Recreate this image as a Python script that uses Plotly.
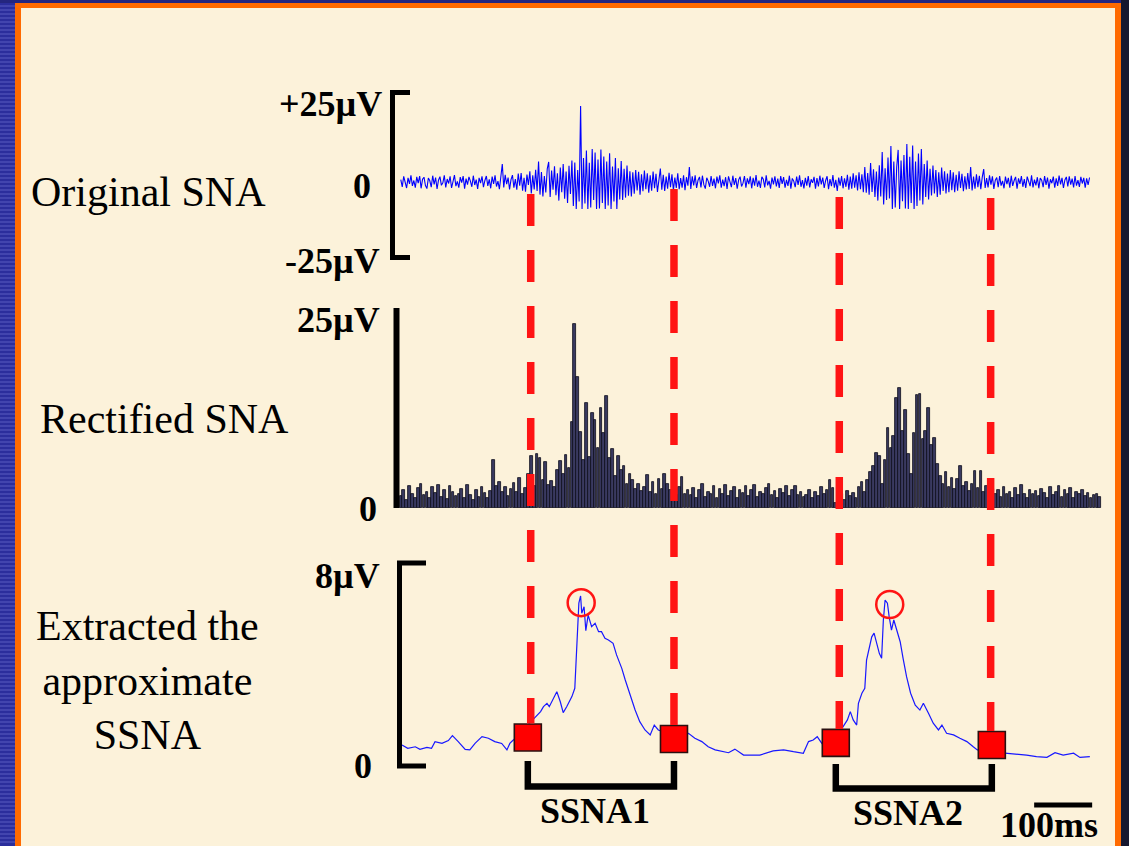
import plotly.graph_objects as go

W, H = 1129, 846

# ------------------------------------------------------------------ data
# Original SNA (µV), sampled every 2.5 ms starting at 10 ms
SNA_T0_MS = 10
SNA_DT_MS = 2.5
original_sna_uV = [
    0.8, -1.6, 1.9, 0.2, -2.0, 1.4, -0.6, 2.2, -1.3, 0.5, -1.9, 1.7, -0.4, 2.0, -2.1, 0.9, 1.6, -1.2, -2.2, 1.3,
    0.4, -1.7, 2.1, -0.8, 1.5, -2.3, 0.6, 1.8, -1.1, -0.3, 2.2, -1.8, 1.0, -0.5, 1.9, -2.0, 0.7, 2.3, -1.4, 0.2,
    -1.9, 1.6, -0.2, 2.0, -2.2, 1.1, -0.9, 1.7, 0.3, -1.6, 2.1, -1.0, 0.8, -2.3, 1.4, -0.4, 1.9, -1.7, 0.5, 2.0,
    -1.3, 0.9, -2.1, 1.8, -0.6, 2.2, -1.5, 0.3, -2.4, 1.2, 6.0, -1.8, 2.4, -0.7, 1.5, -2.5, 0.8, 2.3, -1.9, 1.0,
    -2.6, 2.8, -1.2, 3.0, -2.9, 1.4, -3.2, 2.5, -1.0, 3.6, -3.8, 2.2, -2.5, 4.1, -3.0, 6.8, -4.2, 3.3, -4.8, 2.0,
    -3.5, 4.4, 6.7, -5.0, 3.8, -2.6, 5.2, -4.4, 2.9, -6.2, 4.8, -3.4, 6.0, -5.6, 3.5, -7.0, 5.4, -4.0, 7.2, -8.0,
    6.5, -9.0, 4.0, -6.5, 25.3, -9.0, 8.0, -7.2, 10.5, -9.0, 6.4, -8.5, 11.0, -6.0, 9.8, -9.0, 7.5, -8.8, 10.8, -7.0,
    8.5, -9.0, 6.8, -7.8, 9.6, -9.0, 5.2, -6.5, 8.0, -9.0, 4.6, -5.8, 7.0, -6.0, 4.4, -5.2, 5.5, -4.6, 3.6, -4.8,
    3.2, -3.9, 4.0, -2.8, 3.4, -4.2, 2.6, -3.1, 3.8, -2.4, 2.9, -3.6, 2.2, -2.9, 3.5, -2.1, 2.7, -3.3, 1.9, 4.5,
    -2.6, 2.4, -3.0, 1.8, -2.2, 3.1, -1.7, 2.6, -2.8, 1.5, -2.0, 2.9, -2.4, 1.3, -1.9, 2.2, -2.7, 1.6, -1.2, 5.0,
    -2.3, 1.9, -1.1, 2.2, -2.0, 0.6, 1.7, -1.8, 2.1, -0.9, -2.2, 1.4, 0.3, -1.6, 2.0, -1.3, 1.1, -2.1, 1.8, -0.5,
    2.2, -1.9, 0.8, -1.4, 1.6, -2.3, 1.9, 0.2, -1.7, 2.1, -1.0, 1.3, -2.2, 0.7, 1.8, -1.5, -0.4, 2.0, -1.9, 1.2,
    -0.7, 1.9, -2.1, 1.4, -1.2, 2.3, -1.6, 0.5, -2.0, 1.7, 0.9, -1.8, 2.2, -1.1, 0.4, -2.2, 1.5, -0.8, 1.9, -1.5,
    1.1, -2.0, 2.0, -0.6, 1.6, -1.9, 0.7, -1.3, 2.1, -2.2, 1.2, 0.3, -1.7, 1.8, -1.0, 2.2, -1.6, 0.6, -2.1, 1.4,
    -1.2, 2.0, -1.8, 0.9, -0.3, 1.7, -2.2, 1.3, -1.5, 2.1, -0.8, 1.5, -2.0, 0.5, 1.9, -2.4, 1.0, -1.4, 2.3, -1.9,
    0.7, -3.0, 1.5, -1.2, 2.0, -2.1, 1.2, -1.6, 2.4, -2.6, 1.8, -2.2, 2.9, -1.9, 2.2, -2.8, 3.2, -2.4, 2.6, -3.4,
    5.0, -3.6, 3.0, -4.2, 6.3, -3.3, 4.2, -5.0, 3.5, -6.2, 5.6, -4.8, 10.0, -7.5, 4.6, -6.0, 8.2, -5.5, 12.0, -9.0,
    6.8, -8.5, 5.0, 10.7, -9.0, 7.2, -6.4, 9.0, -8.8, 12.7, -9.0, 8.4, -7.0, 12.2, -9.0, 6.8, -8.0, 9.5, -6.2, 11.0,
    -7.5, 6.0, -5.0, 7.2, -5.8, 4.4, -4.5, 5.5, -3.8, 4.0, -5.0, 3.2, -4.2, 4.8, -3.0, 3.6, -3.8, 2.8, -3.4, 4.0,
    -2.7, 3.2, -3.4, 2.4, -2.9, 3.6, -2.0, 2.7, -3.1, 1.9, -2.5, 3.0, -2.3, 5.0, -2.8, 1.8, -2.2, 2.6, -1.7, 2.1,
    -2.4, 1.6, 4.3, -2.0, 1.3, -1.8, 2.2, -0.9, 1.9, -2.3, 0.6, 1.5, -1.7, 2.0, -1.2, 0.4, -2.1, 1.8, -0.7, 1.4,
    -1.9, 2.1, -1.3, 0.5, 1.7, -2.2, 1.2, -0.6, 2.0, -1.6, 1.0, -2.0, 1.8, 0.2, -1.4, 2.2, -1.8, 0.8, -1.1, 1.6,
    -2.1, 1.3, 0.6, -1.7, 2.0, -1.0, 1.5, -2.2, 0.9, -0.4, 1.8, -1.9, 1.2, -1.3, 2.1, -0.8, 1.4, -2.0, 0.7, 1.7,
    -1.5, 1.9, -0.9, 1.1, -1.8, 2.0, -1.2, 0.6, -1.6, 1.7, -0.5, 1.4, -1.9, 1.2, -1.0, 1.5,
]

# Rectified SNA (µV), 5 ms bins starting at 10 ms
RECT_T0_MS = 10
RECT_DT_MS = 5
rectified_sna_uV = [
    1.5, 2.2, 1.0, 2.8, 1.8, 1.2, 2.5, 3.0, 1.6, 2.0, 1.3, 2.6, 1.9, 2.9, 1.4, 2.3, 1.1, 2.7, 2.0, 1.5,
    1.8, 2.4, 1.2, 2.9, 1.6, 1.0, 2.2, 1.4, 2.6, 1.9, 1.3, 2.1, 6.0, 2.8, 3.3, 2.0, 2.6, 1.5, 2.4, 3.1,
    2.0, 3.8, 1.8, 2.5, 4.2, 6.5, 2.8, 6.8, 6.2, 3.5, 5.8, 2.9, 3.4, 2.6, 4.8, 5.9, 4.2, 6.6, 5.0, 10.7,
    23.0, 16.4, 9.5, 6.0, 13.1, 6.4, 11.9, 11.0, 7.5, 12.5, 9.4, 14.0, 6.2, 7.4, 4.0, 6.5, 4.8, 5.2, 3.0, 4.3,
    3.5, 2.4, 3.0, 2.1, 2.6, 4.1, 2.0, 3.2, 1.8, 3.6, 2.4, 4.3, 3.0, 2.2, 3.4, 1.6, 2.6, 3.9, 1.8, 2.3,
    1.6, 2.5, 1.2, 2.2, 3.0, 1.4, 2.0, 1.7, 2.8, 1.3, 2.4, 1.8, 2.9, 1.5, 2.1, 2.6, 1.3, 2.3, 1.9, 2.7,
    1.5, 2.2, 2.9, 1.4, 2.0, 1.7, 2.5, 3.0, 1.6, 2.1, 1.3, 2.4, 1.9, 2.7, 1.5, 2.2, 2.8, 1.6, 2.0, 1.4,
    1.6, 2.3, 1.2, 2.0, 1.5, 2.6, 1.8, 2.2, 3.5, 2.5, 0.6, 1.2, 1.8, 1.0, 2.1, 1.5, 1.9, 1.3, 2.6, 3.3,
    2.0, 3.5, 4.5, 5.2, 6.9, 6.5, 3.0, 6.0, 10.0, 7.5, 9.0, 13.7, 15.0, 9.6, 12.2, 6.8, 4.2, 9.4, 14.1, 14.2,
    8.6, 9.6, 12.5, 7.9, 8.8, 5.5, 4.0, 3.0, 4.5, 2.6, 3.8, 2.4, 3.6, 5.3, 2.8, 3.3, 2.1, 3.0, 4.6, 2.5,
    4.6, 2.0, 2.8, 1.5, 2.4, 1.8, 2.2, 1.4, 2.6, 1.7, 2.0, 1.3, 2.5, 1.6, 2.9, 1.8, 1.2, 2.3, 1.7, 2.1,
    1.5, 2.4, 1.9, 1.3, 2.6, 1.6, 2.0, 2.8, 1.4, 2.2, 1.7, 2.5, 1.2, 2.0, 1.8, 2.3, 1.5, 1.9, 1.3, 1.6,
    1.8, 1.4,
]

# Extracted approximate SSNA trace
ssna_t_ms = [12, 22, 35, 43, 55, 63, 69, 81, 92, 99, 109, 121, 129, 138, 150, 161, 172, 184, 193, 198,
             204, 229, 251, 256, 262, 266, 270, 279, 285, 290, 296, 305, 310, 313, 315, 317, 320, 322, 326, 329,
             333, 339, 345, 351, 356, 362, 368, 376, 382, 391, 397, 405, 414, 422, 431, 440, 447, 454, 481, 506,
             517, 529, 540, 552, 566, 575, 586, 601, 612, 629, 652, 670, 687, 704, 713, 721, 728, 736, 760, 780,
             785, 790, 796, 799, 805, 810, 813, 818, 822, 826, 831, 835, 839, 842, 845, 849, 852, 856, 860, 865,
             871, 876, 882, 889, 897, 905, 911, 920, 928, 937, 943, 951, 963, 974, 986, 997, 1004, 1029, 1055, 1072,
             1089, 1106, 1124, 1138, 1152, 1170, 1181, 1198]
ssna_uV = [0.89, 0.76, 0.82, 0.72, 0.80, 0.76, 1.02, 0.95, 1.06, 1.25, 1.02, 0.72, 0.70, 0.95, 1.21, 1.15, 1.02, 0.95, 0.70, 0.95,
           1.08, 1.66, 2.18, 2.37, 2.50, 2.37, 2.56, 2.95, 2.56, 2.14, 2.37, 2.76, 3.08, 4.43, 5.85, 6.37, 6.65, 5.98, 6.23, 5.31,
           5.91, 5.46, 5.59, 5.27, 5.27, 5.01, 4.95, 4.82, 4.37, 3.85, 3.40, 2.82, 2.24, 1.79, 1.47, 1.28, 1.66, 1.47, 1.24, 1.34,
           1.15, 1.02, 0.82, 0.70, 0.63, 0.59, 0.73, 0.50, 0.50, 0.50, 0.66, 0.70, 0.63, 0.57, 1.02, 1.08, 1.21, 0.95, 1.16, 1.86,
           2.18, 1.86, 1.66, 2.50, 2.89, 3.08, 4.17, 4.63, 5.07, 5.21, 4.75, 4.43, 4.24, 5.72, 6.49, 6.37, 5.85, 5.33, 5.72, 5.33,
           4.88, 4.24, 3.53, 2.89, 2.43, 2.24, 2.50, 2.11, 1.73, 1.47, 1.66, 1.34, 1.28, 1.15, 1.02, 0.82, 0.70, 0.62, 0.57, 0.54,
           0.50, 0.44, 0.41, 0.59, 0.50, 0.57, 0.41, 0.44]

# Burst onset / offset (dashed red lines and red squares)
event_line_t_ms = [234, 481, 766, 1027]
event_square_t_ms = [229, 481, 760, 1029]
event_square_uV = [1.18, 1.12, 0.97, 0.89]

# Burst peaks (red circles)
peak_t_ms = [321, 853]
peak_uV = [6.39, 6.32]

burst_names = ["SSNA1", "SSNA2"]
SCALE_BAR_MS = 100
SCALE_BAR_START_MS = 1102

# ------------------------------------------------------------------ layout helpers
def px(xp):
    return xp / W


def py(yp):
    return 1 - yp / H


X_PX = (395, 1105)
X_RANGE = [0, (X_PX[1] - X_PX[0]) / 0.58]
Y3_PX = (561, 768)
Y3_RANGE = [0, 8]

sna_t = [SNA_T0_MS + SNA_DT_MS * i for i in range(len(original_sna_uV))]
rect_t = [RECT_T0_MS + RECT_DT_MS * i for i in range(len(rectified_sna_uV))]

BLUE = "#0000FF"
RED = "#FF1414"
SERIF = "Liberation Serif, Times New Roman, serif"

fig = go.Figure()

fig.add_trace(go.Scatter(x=sna_t, y=original_sna_uV, mode="lines",
                         line=dict(color=BLUE, width=1.1), xaxis="x", yaxis="y",
                         hoverinfo="skip"))
fig.add_trace(go.Bar(x=rect_t, y=rectified_sna_uV, width=RECT_DT_MS * 0.9,
                     marker=dict(color="#3a3a60", line=dict(color="#0d0d1c", width=0.8)),
                     xaxis="x", yaxis="y2", hoverinfo="skip"))
fig.add_trace(go.Scatter(x=ssna_t_ms, y=ssna_uV, mode="lines",
                         line=dict(color="#1818FF", width=1.2), xaxis="x", yaxis="y3",
                         hoverinfo="skip"))
fig.add_trace(go.Scatter(x=peak_t_ms, y=peak_uV, mode="markers",
                         marker=dict(symbol="circle-open", size=27, color=RED,
                                     line=dict(color=RED, width=2.5)),
                         xaxis="x", yaxis="y3", cliponaxis=False, hoverinfo="skip"))
fig.add_trace(go.Scatter(x=event_square_t_ms, y=event_square_uV, mode="markers",
                         marker=dict(symbol="square", size=27, color="#FF0000",
                                     line=dict(color="#2a1010", width=1.6)),
                         xaxis="x", yaxis="y3", cliponaxis=False, hoverinfo="skip"))

shapes = []
# slide decoration
shapes.append(dict(type="rect", xref="paper", yref="paper", x0=0, x1=px(15), y0=0, y1=1,
                   fillcolor="#2B2E9C", line=dict(width=0), layer="below"))
for yy in range(2, H, 4):
    shapes.append(dict(type="line", xref="paper", yref="paper", x0=0, x1=px(15), y0=py(yy), y1=py(yy),
                       line=dict(color="#5a5cc0", width=1), layer="below"))
shapes.append(dict(type="rect", xref="paper", yref="paper", x0=0, x1=1, y0=py(3), y1=1,
                   fillcolor="#24267f", line=dict(width=0), layer="below"))
shapes.append(dict(type="rect", xref="paper", yref="paper", x0=px(15), x1=px(1121), y0=py(8), y1=py(3),
                   fillcolor="#FF6A00", line=dict(width=0), layer="below"))
shapes.append(dict(type="rect", xref="paper", yref="paper", x0=px(15), x1=px(21), y0=0, y1=py(3),
                   fillcolor="#FF6A00", line=dict(width=0), layer="below"))
shapes.append(dict(type="rect", xref="paper", yref="paper", x0=px(1115), x1=px(1121), y0=0, y1=py(3),
                   fillcolor="#FF6A00", line=dict(width=0), layer="below"))
shapes.append(dict(type="rect", xref="paper", yref="paper", x0=px(1121), x1=1, y0=0, y1=1,
                   fillcolor="#16172f", line=dict(width=0), layer="below"))


def ppath(points):
    return "M " + " L ".join(f"{px(a):.5f},{py(b):.5f}" for a, b in points)


# brackets / axis bars
shapes.append(dict(type="path", xref="paper", yref="paper",
                   path=ppath([(410, 92.5), (392.5, 92.5), (392.5, 257.5), (410, 257.5)]),
                   line=dict(color="black", width=5)))
shapes.append(dict(type="line", xref="paper", yref="paper", x0=px(396.5), x1=px(396.5),
                   y0=py(308), y1=py(508), line=dict(color="black", width=6)))
shapes.append(dict(type="path", xref="paper", yref="paper",
                   path=ppath([(426, 563), (399.5, 563), (399.5, 766), (426, 766)]),
                   line=dict(color="black", width=5)))

# dashed event lines (end at the top of each square)
dash_tops = [194, 189, 197, 198]
sq_half = 14
px_per_uV = (Y3_PX[1] - Y3_PX[0]) / (Y3_RANGE[1] - Y3_RANGE[0])
for t, v, top in zip(event_line_t_ms, event_square_uV, dash_tops):
    bottom_px = Y3_PX[1] - v * px_per_uV - sq_half
    shapes.append(dict(type="line", xref="x", yref="paper", x0=t, x1=t, y0=py(top), y1=py(bottom_px),
                       line=dict(color=RED, width=7.5, dash="32px,24px")))

# burst brackets
br_tops = [761, 764]
br_bots = [786.5, 788.5]
for k in range(2):
    t1, t2 = event_square_t_ms[2 * k], event_square_t_ms[2 * k + 1]
    path = (f"M {t1},{py(br_tops[k]):.5f} L {t1},{py(br_bots[k]):.5f} "
            f"L {t2},{py(br_bots[k]):.5f} L {t2},{py(br_tops[k]):.5f}")
    shapes.append(dict(type="path", xref="x", yref="paper", path=path,
                       line=dict(color="black", width=6.5)))

# scale bar
shapes.append(dict(type="line", xref="x", yref="paper", x0=SCALE_BAR_START_MS,
                   x1=SCALE_BAR_START_MS + SCALE_BAR_MS, y0=py(805), y1=py(805),
                   line=dict(color="black", width=5)))

annotations = []


def label(text, xp, yp, size, bold=False, xanchor="center", xref="paper", xval=None):
    annotations.append(dict(
        text=f"<b>{text}</b>" if bold else text,
        x=xval if xval is not None else px(xp), y=py(yp), xref=xref, yref="paper",
        xanchor=xanchor, yanchor="middle", showarrow=False, align="center", borderpad=0,
        font=dict(family=SERIF, size=size, color="black")))


label("Original SNA", 148, 192, 42)
label("Rectified SNA", 164, 419, 42)
label("Extracted the<br>approximate<br>SSNA", 147, 680, 42)

label("+25µV", 383, 104, 36, bold=True, xanchor="right")
label("0", 372, 186, 36, bold=True, xanchor="right")
label("-25µV", 381, 261, 36, bold=True, xanchor="right")
label("25µV", 381, 320, 36, bold=True, xanchor="right")
label("0", 378, 509, 36, bold=True, xanchor="right")
label("8µV", 381, 576, 36, bold=True, xanchor="right")
label("0", 373, 766, 36, bold=True, xanchor="right")

for k, name in enumerate(burst_names):
    mid = (event_square_t_ms[2 * k] + event_square_t_ms[2 * k + 1]) / 2
    label(name, 0, 811 + 2 * k, 36, bold=True, xref="x", xval=mid - 10)
label(f"{SCALE_BAR_MS}ms", 0, 825, 36, bold=True, xref="x", xval=SCALE_BAR_START_MS + 26)

fig.update_layout(
    width=W, height=H, autosize=False,
    margin=dict(l=0, r=0, t=0, b=0),
    paper_bgcolor="#FCF2DA", plot_bgcolor="rgba(0,0,0,0)",
    showlegend=False, bargap=0,
    xaxis=dict(domain=[px(X_PX[0]), px(X_PX[1])], range=X_RANGE, visible=False, fixedrange=True),
    yaxis=dict(domain=[py(272), py(92)], range=[-30, 30], visible=False, fixedrange=True, anchor="x"),
    yaxis2=dict(domain=[py(508), py(308)], range=[0, 25], visible=False, fixedrange=True, anchor="x"),
    yaxis3=dict(domain=[py(Y3_PX[1]), py(Y3_PX[0])], range=Y3_RANGE, visible=False, fixedrange=True, anchor="x"),
    shapes=shapes, annotations=annotations,
)

fig.write_html("out.html")
